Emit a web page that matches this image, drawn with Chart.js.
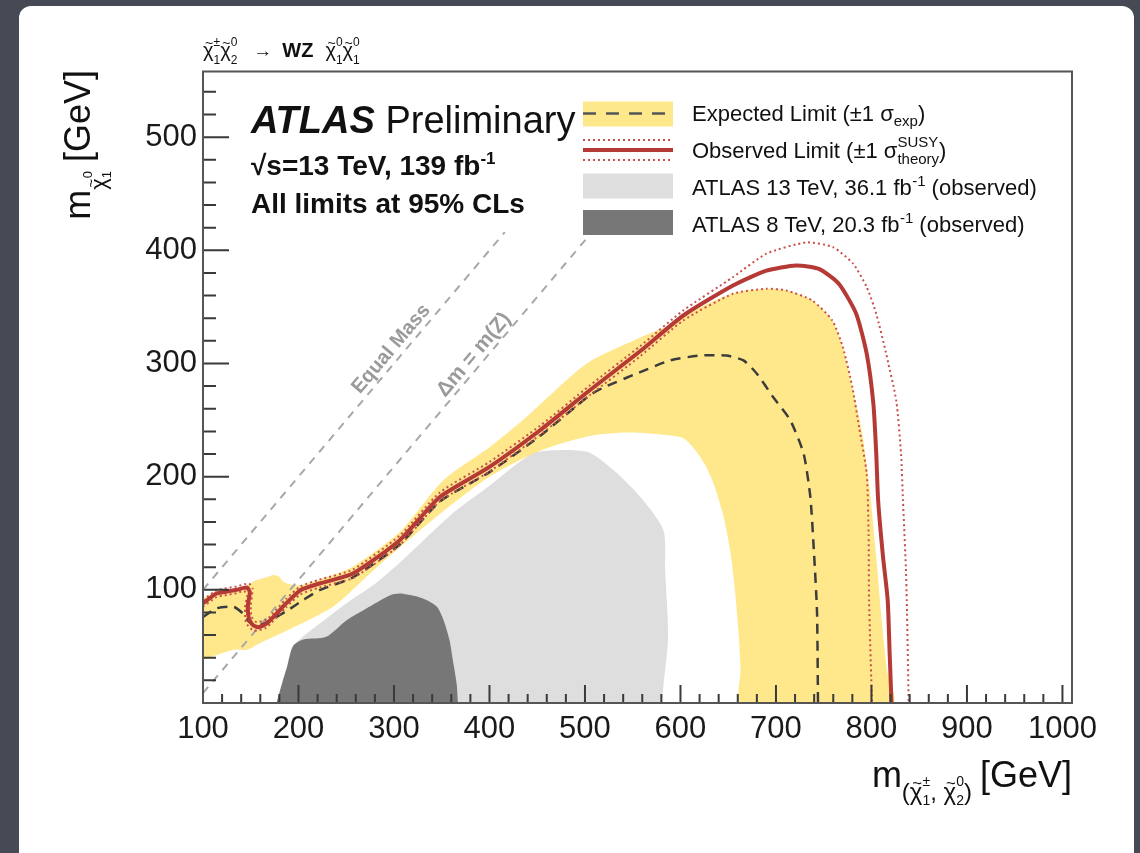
<!DOCTYPE html>
<html>
<head>
<meta charset="utf-8">
<script src="https://cdn.jsdelivr.net/npm/chart.js@4.4.1/dist/chart.umd.min.js"></script>
<style>
  html, body { margin: 0; padding: 0; }
  body { width: 1140px; height: 853px; background: #454a55; position: relative; overflow: hidden; }
  #panel { position: absolute; left: 19px; top: 6px; width: 1115px; height: 900px; background: #fff; border-radius: 12px; }
  #limitChart, #labels { position: absolute; left: 0; top: 0; }
  #labels { pointer-events: none; }
</style>
</head>
<body>
<div id="panel"></div>
<canvas id="limitChart" width="1140" height="853"></canvas>
<svg id="labels" width="1140" height="853" xmlns="http://www.w3.org/2000/svg"></svg>
<script>
// === contour data, [m(chargino/neutralino2), m(neutralino1)] in GeV
const xTicks = [100, 200, 300, 400, 500, 600, 700, 800, 900, 1000];
const yTicks = [100, 200, 300, 400, 500];

const observed = [[100,88],[114,96.7],[125,98.5],[135,100],[146,102],[149,98],[147,86],[148,75],[152,69],[158,67],[167,70.5],[187,88],[202,99.7],[222,105.6],[257,114.4],[306,143.9],[348,182],[400,208.6],[453,241],[505,276.3],[558,311],[603,342.4],[655,368.9],[690,382],[721,386.6],[745,383.6],[766,370.3],[784,344],[795,308.7],[802,264.5],[805,220.4],[807,179],[812,130],[817,91],[819,45],[821,0]];
const observedUp = [[100,91],[114,99.5],[125,101.5],[135,103],[148,105.5],[152,101],[150,86],[151,76],[156,71.5],[167,74],[187,92],[202,103],[222,109],[257,118],[306,148],[348,186],[400,213],[453,245],[505,280.5],[558,315.5],[603,346.9],[655,376.3],[690,397],[732,407],[760,402.7],[781,388],[795,367.5],[805,344],[815,310],[826,267],[831,220],[833,179],[836,120],[837,90],[839,0]];
const observedDown = [[100,85],[114,93.5],[125,95.5],[135,97],[143,99],[146,95],[144,84],[145,71],[153,64],[166,66.5],[187,84.5],[202,96],[222,102],[257,110.5],[306,139.5],[348,178],[400,204.5],[453,237],[505,272],[558,306.5],[603,338],[655,361.6],[690,366],[711,364.5],[738,355.7],[759,338],[770,314.5],[780,279],[787,244],[795,202.8],[797,150],[797.5,91],[800.5,0]];
const expected = [[100,76],[114,83.6],[132,85],[142,79],[148,72],[156,68],[166,71],[187,81],[205,91],[222,99.7],[257,111],[306,140],[348,178],[400,204],[453,236],[505,272],[520,279],[554,291],[589,302.7],[620,307],[648,307],[666,302.7],[680,291],[697,270.3],[715,249.8],[729,220.3],[736,182],[740,130],[743,80],[744,0]];
const expectedBand = [[100,92],[114,99],[132,101],[146,104],[156,108.6],[166,111],[174,113],[180,111.5],[183,108],[188,105.6],[202,104],[236,113],[260,122],[306,151],[352,197],[400,226],[435,250],[502,300],[558,323],[589,334],[603,342],[655,362],[690,366],[711,364.5],[738,355.7],[759,338],[770,314.5],[780,279],[790,240],[798,190],[805,130],[810,80],[816,30],[822,0],
  [664,0],[663,30],[661,60],[657,100],[652,135],[645,165],[635,193],[626,210],[615,224],[603,234],[582,237],[547,239],[505,236],[453,223],[400,200],[348,167],[282,120],[236,85],[188,64],[160,53],[146,47],[132,47],[100,38]];
const atlas13 = [[200,0],[192,40],[196,52],[222,70],[250,88],[278,104],[306,124],[330,143],[365,170],[400,192],[430,212],[450,222],[502,222],[530,205.6],[558,182],[582,153],[584,117],[587,58.5],[582,14],[580,0]];
const atlas8 = [[177,0],[183,18],[188,32],[194,50],[205,56],[229,58.5],[250,73],[271,83.6],[296,95.3],[306,96.8],[322,94.5],[334,91],[345,85],[352,73],[358,56],[362,36],[365.6,17],[367,0]];
const equalMass = [[100,100],[416,416]];
const deltaMZ = [[100,8.8],[502,410.8]];

const xy = (pts) => pts.map(([x, y]) => ({ x, y }));

const curve = (label, pts, color, width, dash, tension) => ({
  label, data: xy(pts), showLine: true, fill: false,
  borderColor: color, borderWidth: width, borderDash: dash || [],
  pointRadius: 0, tension: tension ?? 0.2
});
const region = (label, pts, color) => ({
  label, data: xy(pts), showLine: true, fill: 'shape',
  backgroundColor: color, borderColor: 'rgba(0,0,0,0)', borderWidth: 0,
  pointRadius: 0, tension: 0.25
});

// inner tick marks and the frame, ROOT style
const frameTicks = {
  id: 'frameTicks',
  afterDatasetsDraw(chart) {
    const { ctx, chartArea: a, scales: { x, y } } = chart;
    ctx.save();
    ctx.strokeStyle = '#3a3a3a';
    ctx.lineWidth = 2;
    ctx.beginPath();
    for (let v = 100; v <= 1000; v += 20) {
      const px = x.getPixelForValue(v);
      const len = v % 100 === 0 ? 18 : 9;
      ctx.moveTo(px, a.bottom);
      ctx.lineTo(px, a.bottom - len);
    }
    for (let v = 20; v <= 540; v += 20) {
      const py = y.getPixelForValue(v);
      const len = v % 100 === 0 ? 26 : 13;
      ctx.moveTo(a.left, py);
      ctx.lineTo(a.left + len, py);
    }
    ctx.stroke();
    ctx.strokeStyle = '#555';
    ctx.strokeRect(a.left, a.top, a.right - a.left, a.bottom - a.top);
    ctx.restore();
  }
};

const tickFont = { family: '"Liberation Sans", Arial, sans-serif', size: 31 };

new Chart(document.getElementById('limitChart'), {
  type: 'scatter',
  data: {
    datasets: [
      curve('Observed', observed, '#b53a36', 4),
      curve('Observed +1 sigma', observedUp, '#c8504c', 2, [2, 3]),
      curve('Observed -1 sigma', observedDown, '#c8504c', 2, [2, 3]),
      curve('Expected', expected, '#3c3c3c', 2.5, [10, 7]),
      curve('Equal Mass', equalMass, '#a8a8a8', 2, [8, 7], 0),
      curve('dm = m(Z)', deltaMZ, '#a8a8a8', 2, [8, 7], 0),
      region('Expected band', expectedBand, 'rgba(254,222,90,0.7)'),
      region('ATLAS 8 TeV', atlas8, '#777777'),
      region('ATLAS 13 TeV', atlas13, '#dedede')
    ]
  },
  options: {
    responsive: false,
    animation: false,
    events: [],
    layout: { padding: { top: 71.5, right: 68, bottom: 0, left: 0 } },
    plugins: { legend: { display: false }, tooltip: { enabled: false } },
    scales: {
      x: {
        type: 'linear', min: 100, max: 1010,
        afterBuildTicks: (s) => { s.ticks = xTicks.map((v) => ({ value: v })); },
        afterFit: (s) => { s.height = 150; },
        ticks: { font: tickFont, color: '#1a1a1a', padding: 8, maxRotation: 0, autoSkip: false, callback: (v) => String(v) },
        grid: { display: false, drawTicks: false },
        border: { display: false }
      },
      y: {
        type: 'linear', min: 0, max: 558,
        afterBuildTicks: (s) => { s.ticks = yTicks.map((v) => ({ value: v })); },
        afterFit: (s) => { s.width = 203; },
        ticks: { font: tickFont, color: '#1a1a1a', padding: 6, autoSkip: false, callback: (v) => String(v) },
        grid: { display: false, drawTicks: false },
        border: { display: false }
      }
    }
  },
  plugins: [frameTicks]
});

// === text labels (svg so sub/superscripts can be placed)
const NS = 'http://www.w3.org/2000/svg';
const FONT = '"Liberation Sans", Arial, Helvetica, sans-serif';
const svg = document.getElementById('labels');
const meas = document.createElement('canvas').getContext('2d');

function textWidth(t, size, weight, style) {
  meas.font = `${style || 'normal'} ${weight || 'normal'} ${size}px ${FONT}`;
  return meas.measureText(t).width;
}

// pieces: {t} plain run, {gap} extra space, {stack:[sup, sub]} scripts on top of each other,
// {t, tilde:true} glyph with a tilde put over it
function richText(x, y, pieces, opts = {}) {
  const el = document.createElementNS(NS, 'text');
  el.setAttribute('fill', opts.fill || '#111');
  el.setAttribute('font-family', FONT);
  el.setAttribute('style', 'white-space: pre');
  let cx = 0;
  const spans = [];
  for (const p of pieces) {
    if (p.gap) { cx += p.gap; continue; }
    if (p.stack) {
      const [sup, sub] = p.stack;
      spans.push({ t: sup, x: cx, dy: p.up, size: p.size, weight: p.weight });
      spans.push({ t: sub, x: cx, dy: p.down, size: p.size, weight: p.weight });
      cx += Math.max(textWidth(sup, p.size, p.weight), textWidth(sub, p.size, p.weight));
      continue;
    }
    const w = textWidth(p.t, p.size, p.weight, p.style);
    spans.push({ t: p.t, x: cx, dy: p.dy || 0, size: p.size, weight: p.weight, style: p.style });
    if (p.tilde) {
      const ts = p.size * 0.7;
      const tw = textWidth('~', ts);
      spans.push({ t: '~', x: cx + (w - tw) / 2 + p.size * 0.04, dy: (p.dy || 0) - p.size * 0.47, size: ts });
    }
    cx += w;
  }
  const start = opts.anchor === 'end' ? -cx : opts.anchor === 'middle' ? -cx / 2 : 0;
  for (const s of spans) {
    const ts = document.createElementNS(NS, 'tspan');
    ts.setAttribute('x', x + start + s.x);
    ts.setAttribute('y', y + s.dy);
    ts.setAttribute('font-size', s.size);
    if (s.weight) ts.setAttribute('font-weight', s.weight);
    if (s.style) ts.setAttribute('font-style', s.style);
    ts.textContent = s.t;
    el.appendChild(ts);
  }
  if (opts.transform) el.setAttribute('transform', opts.transform);
  svg.appendChild(el);
}

function shape(tag, attrs) {
  const el = document.createElementNS(NS, tag);
  for (const k in attrs) el.setAttribute(k, attrs[k]);
  svg.appendChild(el);
}

const chi = (sup, sub, size) => [
  { t: 'χ', size, tilde: true },
  { stack: [sup, sub], size: Math.round(size * 0.62), up: -11, down: 7 }
];

// process above the frame
richText(203, 57, [
  ...chi('±', '1', 20), ...chi('0', '2', 20),
  { gap: 16 }, { t: '→', size: 19 }, { gap: 10 },
  { t: 'WZ', size: 20, weight: 'bold' }, { gap: 12 },
  ...chi('0', '1', 20), ...chi('0', '1', 20)
]);

richText(251, 133, [
  { t: 'ATLAS', size: 38, weight: 'bold', style: 'italic' },
  { t: ' Preliminary', size: 38 }
]);
richText(251, 175, [
  { t: '√s=13 TeV, 139 fb', size: 28, weight: 'bold' },
  { t: '-1', size: 17, weight: 'bold', dy: -11 }
]);
richText(251, 213, [{ t: 'All limits at 95% CLs', size: 28, weight: 'bold' }]);

// legend
shape('rect', { x: 583, y: 101.5, width: 90, height: 25, fill: '#fde88b' });
shape('line', { x1: 583, y1: 113.5, x2: 673, y2: 113.5, stroke: '#555', 'stroke-width': 2.5, 'stroke-dasharray': '13 10' });
shape('line', { x1: 583, y1: 140, x2: 673, y2: 140, stroke: '#c8504c', 'stroke-width': 2, 'stroke-dasharray': '2 3' });
shape('line', { x1: 583, y1: 150, x2: 673, y2: 150, stroke: '#b53a36', 'stroke-width': 4 });
shape('line', { x1: 583, y1: 160, x2: 673, y2: 160, stroke: '#c8504c', 'stroke-width': 2, 'stroke-dasharray': '2 3' });
shape('rect', { x: 583, y: 173.5, width: 90, height: 25, fill: '#dedede' });
shape('rect', { x: 583, y: 210, width: 90, height: 25, fill: '#777777' });

richText(692, 121, [
  { t: 'Expected Limit (±1 σ', size: 22 },
  { t: 'exp', size: 15, dy: 5 },
  { t: ')', size: 22 }
]);
richText(692, 158, [
  { t: 'Observed Limit (±1 σ', size: 22 },
  { stack: ['SUSY', 'theory'], size: 15, up: -11, down: 6 },
  { t: ')', size: 22 }
]);
richText(692, 195, [
  { t: 'ATLAS 13 TeV, 36.1 fb', size: 22 },
  { t: '-1', size: 15, dy: -9 },
  { t: ' (observed)', size: 22 }
]);
richText(692, 232, [
  { t: 'ATLAS 8 TeV, 20.3 fb', size: 22 },
  { t: '-1', size: 15, dy: -9 },
  { t: ' (observed)', size: 22 }
]);

// diagonal reference labels
richText(0, 7, [{ t: 'Equal Mass', size: 20, weight: 'bold' }],
  { anchor: 'middle', fill: '#9a9a9a', transform: 'translate(390,348) rotate(-49.9)' });
richText(0, 7, [{ t: 'Δm = m(Z)', size: 21, weight: 'bold' }],
  { anchor: 'middle', fill: '#9a9a9a', transform: 'translate(473,354) rotate(-49.9)' });

// axis titles
richText(0, 0, [
  { t: 'm', size: 36 },
  { t: 'χ', size: 22, dy: 16, tilde: true },
  { stack: ['0', '1'], size: 13, up: 2, down: 21 },
  { gap: 9 },
  { t: '[GeV]', size: 36 }
], { anchor: 'end', fill: '#111', transform: 'translate(90,70) rotate(-90)' });

richText(1072, 787, [
  { t: 'm', size: 36 },
  { t: '(', size: 24, dy: 13 },
  { t: 'χ', size: 24, dy: 13, tilde: true },
  { stack: ['±', '1'], size: 14, up: -1, down: 18 },
  { t: ', ', size: 24, dy: 13 },
  { t: 'χ', size: 24, dy: 13, tilde: true },
  { stack: ['0', '2'], size: 14, up: -1, down: 18 },
  { t: ')', size: 24, dy: 13 },
  { gap: 8 },
  { t: '[GeV]', size: 36 }
], { anchor: 'end' });
</script>
</body>
</html>
